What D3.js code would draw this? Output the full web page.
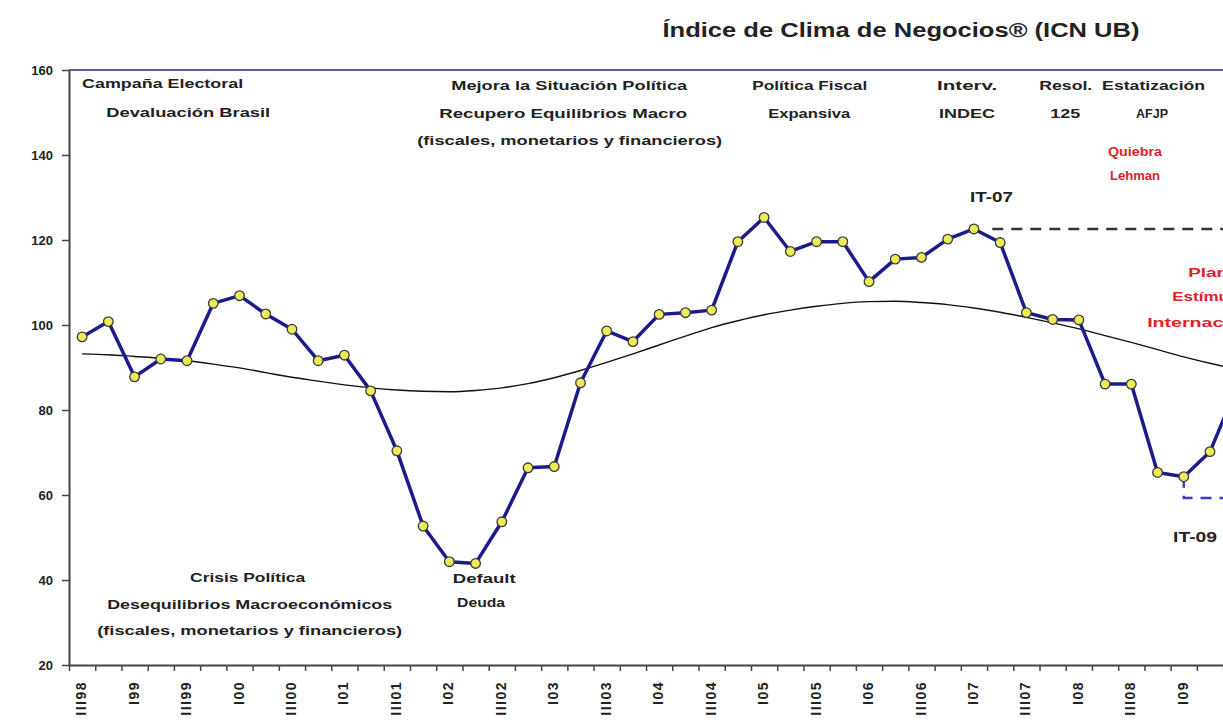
<!DOCTYPE html>
<html>
<head>
<meta charset="utf-8">
<script src="https://cdn.jsdelivr.net/npm/d3@7"></script>
<style>
  body { margin: 0; background: #fff; }
  svg { display: block; overflow: hidden; }
  text { font-family: "Liberation Sans", Arial, sans-serif; font-weight: bold; fill: #222; }
</style>
</head>
<body>
<div id="chart"></div>
<script>
// quarters (category axis), last one is cut off at the right edge
const quarters = ["III98","IV98","I99","II99","III99","IV99","I00","II00","III00","IV00",
  "I01","II01","III01","IV01","I02","II02","III02","IV02","I03","II03","III03","IV03",
  "I04","II04","III04","IV04","I05","II05","III05","IV05","I06","II06","III06","IV06",
  "I07","II07","III07","IV07","I08","II08","III08","IV08","I09","II09","III09"];

// tick labels shown under the axis
const tickLabels = ["III98","I99","III99","I00","III00","I01","III01","I02","III02","I03",
  "III03","I04","III04","I05","III05","I06","III06","I07","III07","I08","III08","I09"];

// Índice de Clima de Negocios (ICN UB)
const icn = [97.2,100.8,87.8,92.0,91.6,105.1,106.9,102.6,99.0,91.6,92.9,84.5,70.4,52.7,44.3,
  43.9,53.7,66.4,66.7,86.4,98.6,96.1,102.5,102.9,103.5,119.6,125.3,117.3,119.6,119.6,110.2,
  115.5,115.9,120.2,122.6,119.4,102.9,101.3,101.2,86.1,86.1,65.3,64.3,70.2,85.0];

// tendencia (linea negra suavizada)
const trend = [93.2,93.0,92.6,92.2,91.6,90.8,89.9,88.8,87.7,86.8,85.9,85.2,84.7,84.4,84.3,
  84.6,85.2,86.2,87.6,89.3,91.2,93.2,95.3,97.4,99.4,101.0,102.4,103.5,104.4,105.1,105.5,
  105.6,105.3,104.8,104.0,103.0,101.8,100.5,99.1,97.5,95.9,94.2,92.5,91.0,89.6];

const yTicks = [20, 40, 60, 80, 100, 120, 140, 160];

// reference levels
const peakIdx = 34, peakVal = 122.6;   // IT-07
const lowIdx = 42, lowLevel = 59.3;    // IT-09

const W = 1223, H = 726;
const svg = d3.select("#chart").append("svg").attr("width", W).attr("height", H);

const x = d3.scaleBand().domain(quarters).range([69, 69 + 26.23 * quarters.length]).paddingInner(0);
// index scale (fractional positions) built on the band scale
const xi = d3.scaleLinear().domain([-0.5, quarters.length - 0.5]).range(x.range());
const y = d3.scaleLinear().domain([20, 160]).range([665, 70]);

// top border of plot area
svg.append("line")
  .attr("x1", x.range()[0]).attr("x2", W)
  .attr("y1", y(160)).attr("y2", y(160))
  .attr("stroke", "#5b5ba6").attr("stroke-width", 2);

// y axis
const yAxis = svg.append("g")
  .attr("transform", "translate(" + x.range()[0] + ",0)")
  .call(d3.axisLeft(y).tickValues(yTicks).tickSize(7).tickSizeOuter(0).tickPadding(9));
yAxis.select(".domain").attr("stroke", "#444").attr("stroke-width", 2);
yAxis.selectAll(".tick line").attr("stroke", "#444").attr("stroke-width", 1.5);
yAxis.selectAll("text").attr("font-size", 13).attr("fill", "#222")
  .style("font-family", "Liberation Sans").style("font-weight", "bold");

// x axis: ticks at category boundaries
const xAxis = svg.append("g")
  .attr("transform", "translate(0," + y(20) + ")")
  .call(d3.axisBottom(xi).tickValues(d3.range(-0.5, quarters.length, 1)).tickFormat("").tickSize(6).tickSizeOuter(0));
xAxis.select(".domain").attr("stroke", "#444").attr("stroke-width", 2);
xAxis.selectAll(".tick line").attr("stroke", "#444").attr("stroke-width", 1.5);

svg.append("g").selectAll("text")
  .data(tickLabels)
  .enter().append("text")
  .attr("transform", d => "translate(" + (x(d) + x.bandwidth() / 2 - 1) + "," + (y(20) + 16) + ") rotate(-90)")
  .attr("text-anchor", "end")
  .attr("dy", "0.36em")
  .attr("font-size", 14)
  .style("letter-spacing", "1.5px")
  .text(d => d);

// trend line
svg.append("path")
  .datum(trend)
  .attr("fill", "none")
  .attr("stroke", "#111")
  .attr("stroke-width", 1.4)
  .attr("d", d3.line().x((d, i) => xi(i)).y(d => y(d)).curve(d3.curveMonotoneX));

// IT-07 dashed reference
svg.append("line")
  .attr("x1", xi(peakIdx + 0.7)).attr("x2", W)
  .attr("y1", y(peakVal)).attr("y2", y(peakVal))
  .attr("stroke", "#333").attr("stroke-width", 2.5)
  .attr("stroke-dasharray", "11,8");

// IT-09 dashed reference
svg.append("path")
  .attr("d", "M" + xi(lowIdx) + "," + y(icn[lowIdx]) + "V" + y(lowLevel) + "H" + W)
  .attr("fill", "none")
  .attr("stroke", "#3a3ad0").attr("stroke-width", 2.5)
  .attr("stroke-dasharray", "11,8");

// ICN series
svg.append("path")
  .datum(icn)
  .attr("fill", "none")
  .attr("stroke", "#1b1b8c")
  .attr("stroke-width", 3.5)
  .attr("stroke-linejoin", "round")
  .attr("d", d3.line().x((d, i) => xi(i)).y(d => y(d)));

svg.append("g").selectAll("circle")
  .data(icn)
  .enter().append("circle")
  .attr("cx", (d, i) => xi(i))
  .attr("cy", d => y(d))
  .attr("r", 4.8)
  .attr("fill", "#ecec58")
  .attr("stroke", "#3b3b3b")
  .attr("stroke-width", 1.3);

// title
svg.append("text")
  .attr("x", 901).attr("y", 30)
  .attr("text-anchor", "middle").attr("dominant-baseline", "central")
  .attr("font-size", 20)
  .attr("textLength", 477).attr("lengthAdjust", "spacingAndGlyphs")
  .text("Índice de Clima de Negocios® (ICN UB)");

// annotations: [text, quarter index, value level, anchor, width, color]
const notes = [
  ["Campaña Electoral", 0, 156.7, "start", 161, "#222"],
  ["Devaluación  Brasil", 0.92, 149.9, "start", 164, "#222"],
  ["Mejora la Situación  Política", 18.57, 156.2, "middle", 236, "#222"],
  ["Recupero Equilibrios  Macro", 18.34, 149.6, "middle", 248, "#222"],
  ["(fiscales, monetarios y financieros)", 18.59, 143.3, "middle", 305, "#222"],
  ["Política Fiscal", 27.74, 156.2, "middle", 115, "#222"],
  ["Expansiva", 27.72, 149.6, "middle", 82, "#222"],
  ["Interv.", 33.74, 156.2, "middle", 60, "#222"],
  ["INDEC", 33.74, 149.6, "middle", 56, "#222"],
  ["Resol.", 37.5, 156.2, "middle", 53, "#222"],
  ["125", 37.48, 149.6, "middle", 30, "#222"],
  ["Estatización", 40.85, 156.2, "middle", 103, "#222"],
  ["AFJP", 40.79, 149.6, "middle", 32, "#222"],
  ["Quiebra", 40.14, 140.7, "middle", 54, "#e0222a"],
  ["Lehman", 40.14, 135.1, "middle", 50, "#e0222a"],
  ["IT-07", 34.67, 130.1, "middle", 43, "#222"],
  ["Plan", 42.93, 112.2, "middle", 40, "#e0222a"],
  ["Estímulo", 42.93, 106.6, "middle", 72, "#e0222a"],
  ["Internacional", 42.93, 100.5, "middle", 122, "#e0222a"],
  ["IT-09", 42.43, 50.1, "middle", 44, "#222"],
  ["Crisis Política", 6.31, 40.5, "middle", 115, "#222"],
  ["Desequilibrios Macroeconómicos", 6.39, 34.1, "middle", 285, "#222"],
  ["(fiscales, monetarios y financieros)", 6.39, 28.0, "middle", 305, "#222"],
  ["Default", 15.33, 40.2, "middle", 63, "#222"],
  ["Deuda", 15.21, 34.6, "middle", 48, "#222"]
];

svg.append("g").selectAll("text")
  .data(notes)
  .enter().append("text")
  .attr("x", d => xi(d[1]))
  .attr("y", d => y(d[2]))
  .attr("text-anchor", d => d[3])
  .attr("dominant-baseline", "central")
  .attr("font-size", d => d[0].startsWith("IT-") ? 14 : 12)
  .attr("textLength", d => d[4])
  .attr("lengthAdjust", "spacingAndGlyphs")
  .style("fill", d => d[5])
  .text(d => d[0]);
</script>
</body>
</html>
